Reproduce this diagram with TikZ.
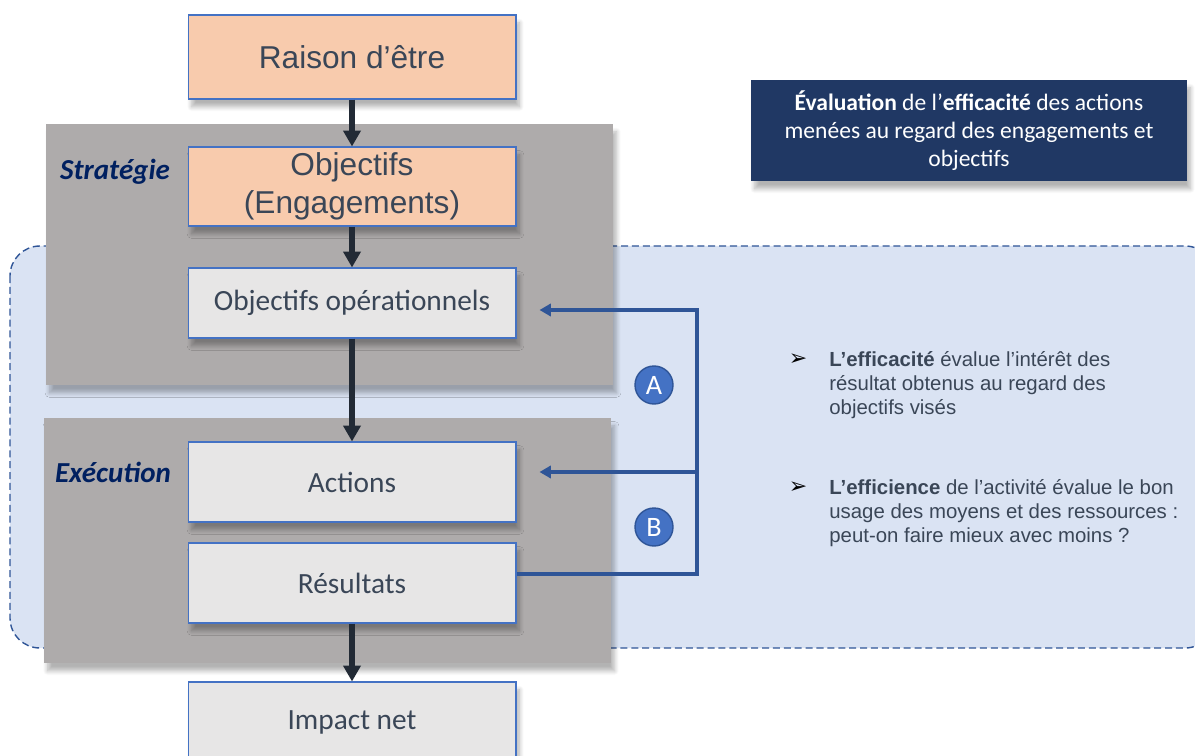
\documentclass[tikz,border=0pt]{standalone}
\usepackage{fontspec}
\setmainfont{Liberation Sans}
\newfontfamily\calibri{Carlito}
\newfontfamily\symb{DejaVu Sans}
\usetikzlibrary{shadows.blur,arrows.meta,calc}

\definecolor{peach}{HTML}{F8CBAD}
\definecolor{boxgray}{HTML}{E7E6E6}
\definecolor{panelgray}{HTML}{AEABAB}
\definecolor{edgeblue}{HTML}{4472C4}
\definecolor{loopblue}{HTML}{2F5597}
\definecolor{zoneblue}{HTML}{DAE3F3}
\definecolor{navy}{HTML}{203864}
\definecolor{labelnavy}{HTML}{002060}
\definecolor{arrowdark}{HTML}{222A35}
\definecolor{textslate}{HTML}{3A4657}

\tikzset{
  softshadow/.style={blur shadow={shadow xshift=2pt, shadow yshift=-4.5pt, shadow blur radius=2.5pt, shadow blur steps=10, shadow opacity=30}},
  stepbox/.style={draw=edgeblue, line width=0.6pt, minimum width=\boxwidth, text=textslate, inner sep=0pt, align=center, softshadow},
  warmbox/.style={stepbox, fill=peach, font=\fontsize{18}{21.5}\selectfont},
  coolbox/.style={stepbox, fill=boxgray, font=\calibri\fontsize{16.7}{20}\selectfont},
  phase/.style={text=labelnavy, font=\calibri\bfseries\itshape\fontsize{16.5}{20}\selectfont},
  flow/.style={draw=arrowdark, line width=3.2pt, -{Triangle[width=9.6pt,length=9pt]}},
  feedback/.style={draw=loopblue, line width=2pt, -{Triangle[width=7pt,length=6.5pt]}},
  badge/.style={circle, fill=edgeblue, draw=loopblue, line width=0.8pt, minimum size=0.76cm, inner sep=0pt, text=white, font=\calibri\fontsize{16}{18}\selectfont},
  bullettext/.style={anchor=north west, inner sep=0pt, align=left, text=textslate, font=\fontsize{11.6}{13.6}\selectfont},
  bulletmark/.style={text=black, inner sep=0pt, font=\symb\fontsize{12.5}{14}\selectfont}
}

\begin{document}
\begin{tikzpicture}[x=0.02cm, y=-0.02cm]
    % Define box size
    \def\boxwidth{6.56cm}

    \useasboundingbox (0,0) rectangle (1195,756);

    % Dashed evaluation zone
    \draw[fill=zoneblue, draw=loopblue, line width=0.8pt, dash pattern=on 4pt off 2.2pt, rounded corners=0.6cm] (10,246) rectangle (1215,648);

    % Phase panels
    \fill[panelgray, softshadow] (46,124) rectangle (613,385);
    \fill[panelgray, softshadow] (44,418) rectangle (611,663);
    \node[phase] (strategie) at (115,172) {Stratégie};
    \node[phase] (execution) at (113,472) {Exécution};

    % Chain of boxes
    \node[warmbox, minimum height=1.68cm] (raison) at (352,57) {Raison d’être};
    \node[warmbox, minimum height=1.58cm] (objectifs) at (352,186.5) {Objectifs\\(Engagements)};
    \node[coolbox, minimum height=1.4cm] (objop) at (352,303) {Objectifs opérationnels};
    \node[coolbox, minimum height=1.6cm] (actions) at (352,482) {Actions};
    \node[coolbox, minimum height=1.6cm] (resultats) at (352,583) {Résultats};
    \node[coolbox, minimum height=1.6cm] (impact) at (352,722) {Impact net};

    \draw[flow] (raison) -- (objectifs);
    \draw[flow] (objectifs) -- (objop);
    \draw[flow] (objop) -- (actions);
    \draw[flow] (resultats) -- (impact);

    % Feedback loop
    \coordinate (looptop) at (697,310);
    \coordinate (loopmid) at (697,472);
    \coordinate (loopbot) at (697,574);
    \draw[feedback] (resultats.east |- loopbot) -- (loopbot) -- (looptop) -- ($(objop.east |- looptop)+(23,0)$);
    \draw[feedback] (loopmid) -- ($(actions.east |- loopmid)+(23,0)$);
    \node[badge] (a) at (654,385) {A};
    \node[badge] (b) at (654,527) {B};

    % Evaluation title
    \node[fill=navy, text=white, minimum width=8.72cm, minimum height=2.02cm, align=center, inner sep=0pt, softshadow,
          font=\calibri\fontsize{13.4}{16}\selectfont] (eval) at (969,130.5)
        {\textbf{Évaluation} de l’\textbf{efficacité} des actions\\menées au regard des engagements et\\objectifs};

    % Bullets
    \node[bulletmark] (effbullet) at (798,360) {➢};
    \node[bullettext] (efficacite) at (829,351)
        {\textbf{L’efficacité} évalue l’intérêt des\\résultat obtenus au regard des\\objectifs visés};
    \node[bulletmark] (effibullet) at (798,488) {➢};
    \node[bullettext] (efficience) at (829,479)
        {\textbf{L’efficience} de l’activité évalue le bon\\usage des moyens et des ressources :\\peut-on faire mieux avec moins ?};

\end{tikzpicture}
\end{document}
